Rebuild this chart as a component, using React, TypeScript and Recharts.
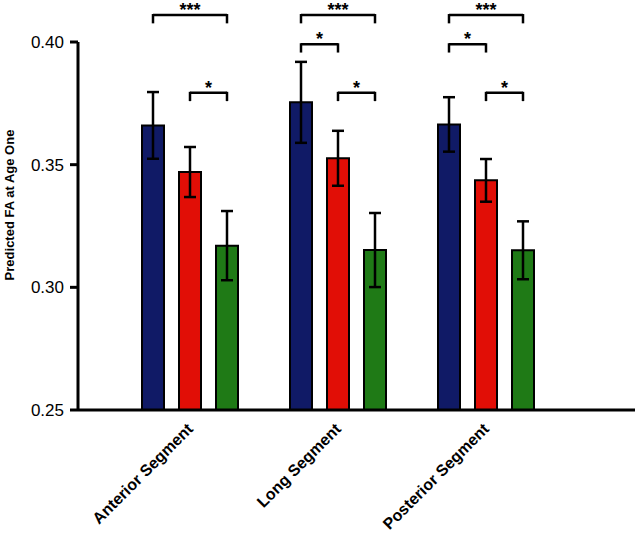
import React from 'react';
import { ComposedChart, Bar, XAxis, YAxis, ErrorBar, ReferenceLine } from 'recharts';

// ---- data ----
const categories = ['Anterior Segment', 'Long Segment', 'Posterior Segment'];
const group1Values = [0.366, 0.3754, 0.3664];
const group1Errors = [0.0136, 0.0165, 0.0111];
const group2Values = [0.347, 0.3526, 0.3436];
const group2Errors = [0.0102, 0.0112, 0.0087];
const group3Values = [0.317, 0.3152, 0.3151];
const group3Errors = [0.0141, 0.0151, 0.0118];
const yTicks = [0.25, 0.3, 0.35, 0.4];

// significance brackets (category index, bar from, bar to, level in FA units, label)
const bracketCategory = [0, 0, 1, 1, 1, 2, 2, 2];
const bracketFrom = [0, 1, 0, 0, 1, 0, 0, 1];
const bracketTo = [2, 2, 2, 1, 2, 2, 1, 2];
const bracketLevel = [0.411, 0.3793, 0.411, 0.3991, 0.3793, 0.411, 0.3991, 0.3793];
const bracketLabel = ['***', '*', '***', '*', '*', '***', '*', '*'];

const data = categories.map((c, i) => ({
  name: c,
  idx: i,
  g1: group1Values[i],
  e1: group1Errors[i],
  g2: group2Values[i],
  e2: group2Errors[i],
  g3: group3Values[i],
  e3: group3Errors[i],
}));

// ---- layout / style ----
const W = 637;
const H = 533;
const MARGIN = { top: 42, right: 2, left: 0, bottom: 0 };
const Y_AXIS_W = 78;
const X_AXIS_H = 123;
const PAD_L = 38;
const PAD_R = 75;
const BAR_SIZE = 22;
const BAR_GAP = 15;
const BAND = (W - MARGIN.left - MARGIN.right - Y_AXIS_W - PAD_L - PAD_R) / categories.length;
const SERIES_STEP = (BAR_SIZE + BAR_GAP) / BAND; // in category units
const TICK_DROP = 0.0034;
const FONT = '"Liberation Sans", Arial, Helvetica, sans-serif';
const COLORS = ['#101a66', '#e10e06', '#1f7a16'];

// position on the hidden index axis (category index -> band centre)
const barCenter = (cat: number, series: number) => cat + (series - 1) * SERIES_STEP;

const XTick = (props: any) => {
  const { x, y, payload } = props;
  return (
    <g transform={`translate(${x + 4},${y + 20})`}>
      <text
        x={0}
        y={0}
        textAnchor="end"
        transform="rotate(-45)"
        fontFamily={FONT}
        fontWeight="bold"
        fontSize={16}
        fill="#000"
      >
        {payload.value}
      </text>
    </g>
  );
};

const YLabel = (props: any) => {
  const vb = props.viewBox || { x: 0, y: MARGIN.top, width: Y_AXIS_W, height: 368 };
  const cx = vb.x + 9;
  const cy = vb.y + vb.height / 2 - 21;
  return (
    <text
      x={cx}
      y={cy}
      transform={`rotate(-90, ${cx}, ${cy})`}
      textAnchor="middle"
      dominantBaseline="central"
      fontFamily={FONT}
      fontWeight="bold"
      fontSize={13}
      fill="#000"
    >
      Predicted FA at Age One
    </text>
  );
};

export default function App() {
  const brackets: React.ReactNode[] = [];
  bracketCategory.forEach((cat, k) => {
    const x1 = barCenter(cat, bracketFrom[k]);
    const x2 = barCenter(cat, bracketTo[k]);
    const lv = bracketLevel[k];
    const common = {
      xAxisId: 'pos',
      yAxisId: 'fa',
      stroke: '#000',
      strokeWidth: 2.5,
      ifOverflow: 'visible' as const,
    };
    brackets.push(
      <ReferenceLine
        key={`h${k}`}
        {...common}
        segment={[{ x: x1, y: lv }, { x: x2, y: lv }]}
        label={{
          value: bracketLabel[k],
          position: 'top',
          offset: -1,
          fill: '#000',
          fontSize: 18,
          fontWeight: 'bold',
          fontFamily: FONT,
        }}
      />,
      <ReferenceLine key={`l${k}`} {...common} segment={[{ x: x1, y: lv + 0.0004 }, { x: x1, y: lv - TICK_DROP }]} />,
      <ReferenceLine key={`r${k}`} {...common} segment={[{ x: x2, y: lv + 0.0004 }, { x: x2, y: lv - TICK_DROP }]} />
    );
  });

  return (
    <div style={{ position: 'absolute', left: 0, top: 0, background: '#fff' }}>
      <ComposedChart
        width={W}
        height={H}
        data={data}
        margin={MARGIN}
        barSize={BAR_SIZE}
        barGap={BAR_GAP}
      >
        <XAxis
          dataKey="name"
          xAxisId="cat"
          height={X_AXIS_H}
          padding={{ left: PAD_L, right: PAD_R }}
          axisLine={{ stroke: '#000', strokeWidth: 3 }}
          tickLine={false}
          tickSize={0}
          tickMargin={0}
          interval={0}
          tick={<XTick />}
        />
        <XAxis
          xAxisId="pos"
          dataKey="idx"
          type="number"
          domain={['dataMin', 'dataMax']}
          padding={{ left: PAD_L + BAND / 2, right: PAD_R + BAND / 2 }}
          hide
        />
        <YAxis
          yAxisId="fa"
          width={Y_AXIS_W}
          domain={[0.25, 0.4]}
          ticks={yTicks}
          allowDataOverflow
          tickFormatter={(v: number) => v.toFixed(2)}
          axisLine={{ stroke: '#000', strokeWidth: 3 }}
          tickLine={{ stroke: '#000', strokeWidth: 3 }}
          tickSize={8}
          tickMargin={6}
          tick={{ fill: '#000', fontSize: 17, fontFamily: FONT }}
          label={<YLabel />}
        />
        {(['g1', 'g2', 'g3'] as const).map((key, s) => (
          <Bar
            key={key}
            dataKey={key}
            xAxisId="cat"
            yAxisId="fa"
            fill={COLORS[s]}
            stroke="#000"
            strokeWidth={2}
            isAnimationActive={false}
          >
            <ErrorBar
              dataKey={`e${s + 1}`}
              width={6}
              stroke="#000"
              strokeWidth={2.5}
              isAnimationActive={false}
            />
          </Bar>
        ))}
        {brackets}
      </ComposedChart>
    </div>
  );
}
